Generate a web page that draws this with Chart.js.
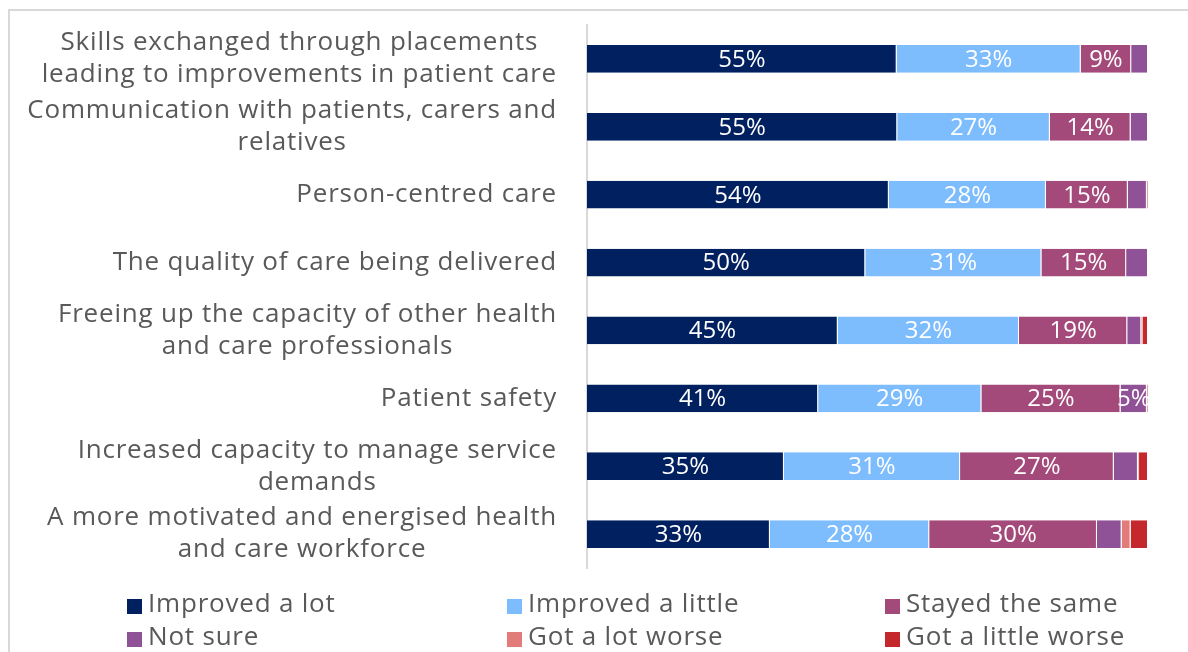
<!DOCTYPE html>
<html>
<head>
<meta charset="utf-8">
<script src="https://cdn.jsdelivr.net/npm/chart.js@4.4.1/dist/chart.umd.min.js"></script>
<style>
  body { margin: 0; background: #fff; }
  canvas { display: block; }
</style>
</head>
<body>
<canvas id="chart" width="1188" height="652"></canvas>
<script>
// categories (top to bottom), each split into its display lines
const categories = [
    ['Skills exchanged through placements', 'leading to improvements in patient care'],
    ['Communication with patients, carers and', 'relatives'],
    ['Person-centred care'],
    ['The quality of care being delivered'],
    ['Freeing up the capacity of other health', 'and care professionals'],
    ['Patient safety'],
    ['Increased capacity to manage service', 'demands'],
    ['A more motivated and energised health', 'and care workforce']
];

const seriesNames = ['Improved a lot', 'Improved a little', 'Stayed the same', 'Not sure', 'Got a lot worse', 'Got a little worse'];
const seriesColors = ['#002060', '#7DBDFD', '#A34A7A', '#8F5296', '#E27C7B', '#C4282D'];

// percentages
const improvedLot    = [55.2, 55.3, 53.8, 49.6, 44.7, 41.2, 35.1, 32.6];
const improvedLittle = [32.8, 27.2, 28.0, 31.4, 32.3, 29.1, 31.4, 28.4];
const stayedSame     = [9.0, 14.4, 14.6, 15.1, 19.3, 24.8, 27.4, 29.9];
const notSure        = [3.0, 3.1, 3.4, 3.9, 2.5, 4.7, 4.3, 4.4];
const lotWorse       = [0, 0, 0, 0, 0.2, 0, 0.2, 1.6];
const littleWorse    = [0, 0, 0.2, 0, 1.0, 0.2, 1.6, 3.1];

const seriesValues = [improvedLot, improvedLittle, stayedSame, notSure, lotWorse, littleWorse];

const FONT = '"Open Sans", sans-serif';
const TEXT_GREY = '#595959';

// frame round the whole picture
const framePlugin = {
    id: 'frame',
    beforeDraw(chart) {
        const ctx = chart.ctx;
        ctx.save();
        ctx.strokeStyle = '#d9d9d9';
        ctx.lineWidth = 2;
        ctx.strokeRect(9, 10, chart.width + 20, chart.height + 20);
        ctx.restore();
    }
};

// white % labels inside the segments
const segmentLabels = {
    id: 'segmentLabels',
    afterDatasetsDraw(chart) {
        const ctx = chart.ctx;
        ctx.save();
        ctx.font = '24px ' + FONT;
        ctx.fillStyle = '#ffffff';
        ctx.textAlign = 'center';
        ctx.textBaseline = 'middle';
        chart.data.datasets.forEach((ds, di) => {
            chart.getDatasetMeta(di).data.forEach((bar, i) => {
                const v = ds.data[i];
                if (v < 4.5) return;
                ctx.fillText(Math.round(v) + '%', (bar.x + bar.base) / 2, bar.y + 1);
            });
        });
        ctx.restore();
    }
};

// category labels: block right aligned, lines centred in the block
const categoryLabels = {
    id: 'categoryLabels',
    afterDraw(chart) {
        const ctx = chart.ctx;
        const yScale = chart.scales.y;
        const rightEdge = 557;
        const lineH = 32;
        ctx.save();
        ctx.font = '26px ' + FONT;
        ctx.letterSpacing = '0.8px';
        ctx.fillStyle = TEXT_GREY;
        ctx.textAlign = 'center';
        ctx.textBaseline = 'middle';
        categories.forEach((lines, i) => {
            const cy = yScale.getPixelForValue(i);
            const w = Math.max(...lines.map(l => ctx.measureText(l).width));
            const cx = rightEdge - w / 2;
            lines.forEach((l, k) => {
                ctx.fillText(l, cx, cy + (k - (lines.length - 1) / 2) * lineH);
            });
        });
        ctx.restore();
    }
};

// legend in three columns under the plot
const gridLegend = {
    id: 'gridLegend',
    afterDraw(chart) {
        const ctx = chart.ctx;
        const colX = [127, 507, 885];
        const rowBase = [612, 645];
        ctx.save();
        ctx.font = '26px ' + FONT;
        ctx.letterSpacing = '0.8px';
        ctx.textBaseline = 'alphabetic';
        ctx.textAlign = 'left';
        chart.data.datasets.forEach((ds, i) => {
            const x = colX[i % 3];
            const base = rowBase[Math.floor(i / 3)];
            ctx.fillStyle = ds.backgroundColor;
            ctx.fillRect(x, base - 13, 15, 15);
            ctx.fillStyle = TEXT_GREY;
            ctx.fillText(ds.label, x + 21, base);
        });
        ctx.restore();
    }
};

new Chart(document.getElementById('chart'), {
    type: 'bar',
    data: {
        labels: categories,
        datasets: seriesNames.map((name, i) => ({
            label: name,
            data: seriesValues[i],
            backgroundColor: seriesColors[i],
            borderColor: 'rgba(255,255,255,0.7)',
            borderWidth: { left: 0, top: 0, bottom: 0, right: 1 },
            borderSkipped: false,
            barPercentage: 0.41,
            categoryPercentage: 1
        }))
    },
    options: {
        indexAxis: 'y',
        responsive: false,
        animation: false,
        devicePixelRatio: 1,
        layout: { padding: { left: 0, right: 40, top: 25, bottom: 84 } },
        plugins: {
            legend: { display: false },
            tooltip: { enabled: false }
        },
        scales: {
            x: {
                stacked: true,
                min: 0,
                max: 100,
                display: false
            },
            y: {
                stacked: true,
                grid: { display: false },
                border: { display: true, color: '#d9d9d9', width: 2 },
                ticks: { display: false },
                afterFit(scale) { scale.width = 587; }
            }
        }
    },
    plugins: [framePlugin, segmentLabels, categoryLabels, gridLegend]
});
</script>
</body>
</html>
